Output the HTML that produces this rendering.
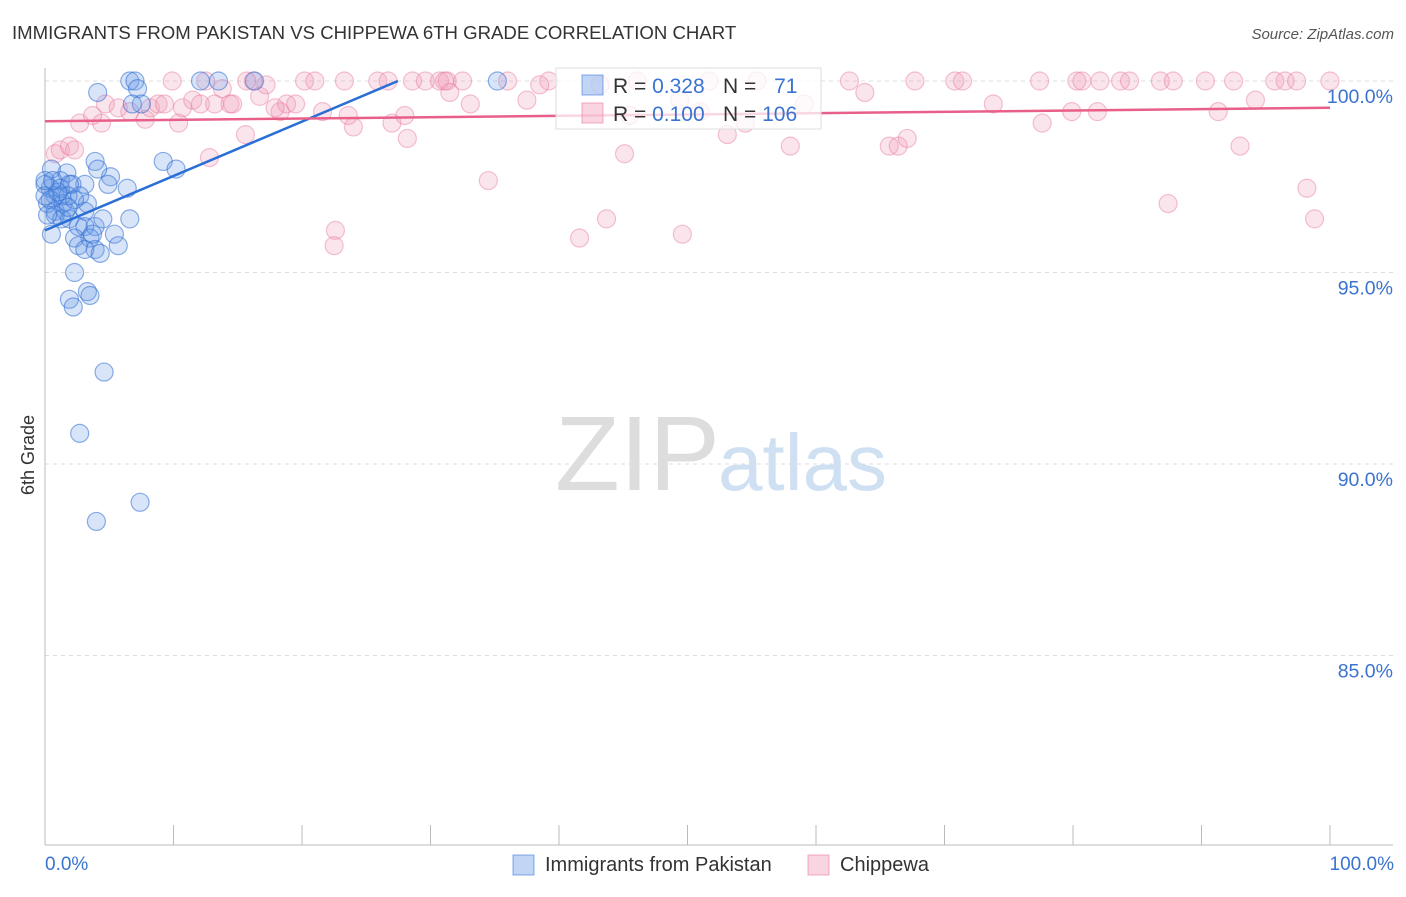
<!DOCTYPE html>
<html><head><meta charset="utf-8"><style>
body{margin:0;background:#fff;font-family:"Liberation Sans",sans-serif;}
svg text{font-family:"Liberation Sans",sans-serif;}
</style></head><body>
<svg width="1406" height="892" xmlns="http://www.w3.org/2000/svg">
<text x="12" y="39" font-size="18.6" fill="#333">IMMIGRANTS FROM PAKISTAN VS CHIPPEWA 6TH GRADE CORRELATION CHART</text>
<text x="1394" y="39" font-size="15" fill="#555" text-anchor="end" font-style="italic">Source: ZipAtlas.com</text>
<g>
<text x="555" y="490" font-size="106" fill="#ddd" font-family="Liberation Serif">ZIP</text>
<text x="718" y="490" font-size="80" fill="#cfe0f3">atlas</text>
</g>
<g id="grid"></g><g id="axes"></g><g id="pts"></g><g id="trend"></g>
<text x="34" y="455" font-size="18" fill="#333" text-anchor="middle" transform="rotate(-90 34 455)">6th Grade</text>
<text x="45" y="870" font-size="19" fill="#3b73d0">0.0%</text>
<text x="1394" y="870" font-size="19" fill="#3b73d0" text-anchor="end">100.0%</text>
<g>
<rect x="556" y="68" width="265" height="61" fill="rgba(255,255,255,0.75)" stroke="#ddd"/>
<rect x="582" y="75" width="21" height="20" fill="rgba(100,150,230,0.4)" stroke="rgba(60,120,220,0.6)"/>
<rect x="582" y="103" width="21" height="20" fill="rgba(240,150,180,0.4)" stroke="rgba(230,120,160,0.6)"/>
<text x="613" y="93" font-size="21" fill="#333">R = <tspan fill="#3b73d0">0.328</tspan></text>
<text x="723" y="93" font-size="21" fill="#333">N = <tspan fill="#3b73d0" dx="12">71</tspan></text>
<text x="613" y="121" font-size="21" fill="#333">R = <tspan fill="#3b73d0">0.100</tspan></text>
<text x="723" y="121" font-size="21" fill="#333">N = <tspan fill="#3b73d0">106</tspan></text>
</g>
<g>
<rect x="513" y="855" width="21" height="20" fill="rgba(100,150,230,0.4)" stroke="rgba(60,120,220,0.6)"/>
<text x="545" y="871" font-size="20" fill="#333">Immigrants from Pakistan</text>
<rect x="808" y="855" width="21" height="20" fill="rgba(240,150,180,0.4)" stroke="rgba(230,120,160,0.6)"/>
<text x="840" y="871" font-size="20" fill="#333">Chippewa</text>
</g>
</svg>
<script>
const yTicks=[100,95,90,85];
const yTickLabels=["100.0%","95.0%","90.0%","85.0%"];
const xTicks=[0,10,20,30,40,50,60,70,80,90,100];
const blueX=[4.1,6.6,7.0,12.1,13.5,16.3,35.2,7.2,7.5,6.8,9.2,10.2,3.9,5.1,4.1,3.1,1.7,0.5,1.2,2.1,0.4,0.8,1.3,0.2,0.8,1.6,2.7,3.1,0,1.9,2.6,3.1,3.9,4.5,6.6,5.4,2.3,3.5,3.7,2.6,3.9,5.7,0.5,3.1,2.3,3.3,3.5,1.9,2.2,4.6,2.7,7.4,4.0,6.4,4.9,1.2,0.4,0,1.4,1.9,0,0.8,1.3,4.3,1.8,1.0,0.2,3.3,0.6,2.3,1.8];
const blueY=[99.7,100,100,100,100,100,100,99.8,99.4,99.4,97.9,97.7,97.9,97.5,97.7,97.3,97.6,97.7,97.4,97.3,97.2,97.0,97.0,96.8,96.6,96.6,97.0,96.6,97.3,96.4,96.2,96.2,96.2,96.4,96.4,96.0,95.9,95.9,96.0,95.7,95.6,95.7,96.0,95.6,95.0,94.5,94.4,94.3,94.1,92.4,90.8,89.0,88.5,97.2,97.3,97.2,96.9,97.0,96.8,97.3,97.4,96.5,96.4,95.5,97.0,97.1,96.5,96.8,97.4,96.9,96.7];
const pinkX=[2.7,4.4,0.8,1.2,1.9,2.3,3.7,4.7,5.7,6.6,7.8,8.2,8.8,9.3,10.4,10.7,11.5,12.1,13.2,13.8,14.4,14.6,15.6,16.7,17.2,18.3,18.8,19.5,12.8,
9.9,12.5,16.2,20.2,21.0,23.3,25.9,26.7,28.6,29.6,30.7,31.3,32.5,36.0,39.2,46.1,51.7,55.4,62.6,70.8,71.4,77.4,80.3,80.7,83.7,84.4,86.8,87.8,90.3,92.5,95.7,96.5,97.4,100,15.7,31.1,82.1,67.7,
21.6,23.6,24.0,27.0,28.0,28.2,31.5,33.1,37.5,34.5,41.6,43.7,45.1,49.6,53.1,54.5,58.0,59.1,63.8,65.7,66.4,67.1,73.8,77.6,79.9,81.9,87.4,91.3,93.0,94.2,98.2,98.8,22.6,22.5,17.9,45.5,51.0,38.5,43.2,49.4];
const pinkY=[98.9,98.9,98.1,98.2,98.3,98.2,99.1,99.4,99.3,99.2,99.0,99.3,99.4,99.4,98.9,99.3,99.5,99.4,99.4,99.8,99.4,99.4,98.6,99.6,99.9,99.2,99.4,99.4,98.0,
100,100,100,100,100,100,100,100,100,100,100,100,100,100,100,100,100,100,100,100,100,100,100,100,100,100,100,100,100,100,100,100,100,100,100,100,100,100,
99.2,99.1,98.8,98.9,99.1,98.5,99.7,99.4,99.5,97.4,95.9,96.4,98.1,96.0,98.6,98.9,98.3,99.4,99.7,98.3,98.3,98.5,99.4,98.9,99.2,99.2,96.8,99.2,98.3,99.5,97.2,96.4,96.1,95.7,99.3,99.1,99.2,99.9,99.9,99.5];
const blueTrend=[96.1,0.142];
const pinkTrend=[98.95,0.0035];
const NS="http://www.w3.org/2000/svg";
const X0=45,X1=1330,Y100=81,PXPER=38.3;
function sx(v){return X0+(X1-X0)*v/100;}
function sy(v){return Y100+(100-v)*PXPER;}
function mk(tag,attrs,parent){const e=document.createElementNS(NS,tag);for(const k in attrs)e.setAttribute(k,attrs[k]);document.getElementById(parent).appendChild(e);return e;}
yTicks.forEach((t,i)=>{
 const l=mk('line',{x1:X0,x2:1393,y1:sy(t),y2:sy(t),stroke:'#ddd','stroke-dasharray':'4,4'},'grid');
 
 
 const tx=mk('text',{x:1393,y:sy(t)+22,'font-size':19.5,fill:'#3b73d0','text-anchor':'end'},'grid');
 tx.textContent=yTickLabels[i];
 
 
});
const ya=mk('line',{x1:X0,x2:X0,y1:68,y2:845,stroke:'#bbb'},'axes');


const xa=mk('line',{x1:X0,x2:1393,y1:845,y2:845,stroke:'#bbb'},'axes');


xTicks.forEach(t=>{
 const l=mk('line',{x1:sx(t),x2:sx(t),y1:825,y2:845,stroke:'#bbb'},'axes');
 
 
});
pinkX.forEach((x,i)=>{
 const c=mk('circle',{cx:sx(x),cy:sy(pinkY[i]),r:9,fill:'rgba(240,150,180,0.25)',stroke:'rgba(230,120,160,0.45)','stroke-width':1.2},'pts');
 
 
});
blueX.forEach((x,i)=>{
 const c=mk('circle',{cx:sx(x),cy:sy(blueY[i]),r:9,fill:'rgba(100,150,230,0.25)',stroke:'rgba(50,110,210,0.55)','stroke-width':1.2},'pts');
 
 
});
const bEnd=Math.min(100,(100-blueTrend[0])/blueTrend[1]);
const bl=mk('line',{x1:sx(0),y1:sy(blueTrend[0]),x2:sx(bEnd),y2:sy(blueTrend[0]+blueTrend[1]*bEnd),stroke:'#2a6fd6','stroke-width':2.5},'trend');


const pl=mk('line',{x1:sx(0),y1:sy(pinkTrend[0]),x2:sx(100),y2:sy(pinkTrend[0]+pinkTrend[1]*100),stroke:'#e8608a','stroke-width':2.5},'trend');


</script>
</body></html>
